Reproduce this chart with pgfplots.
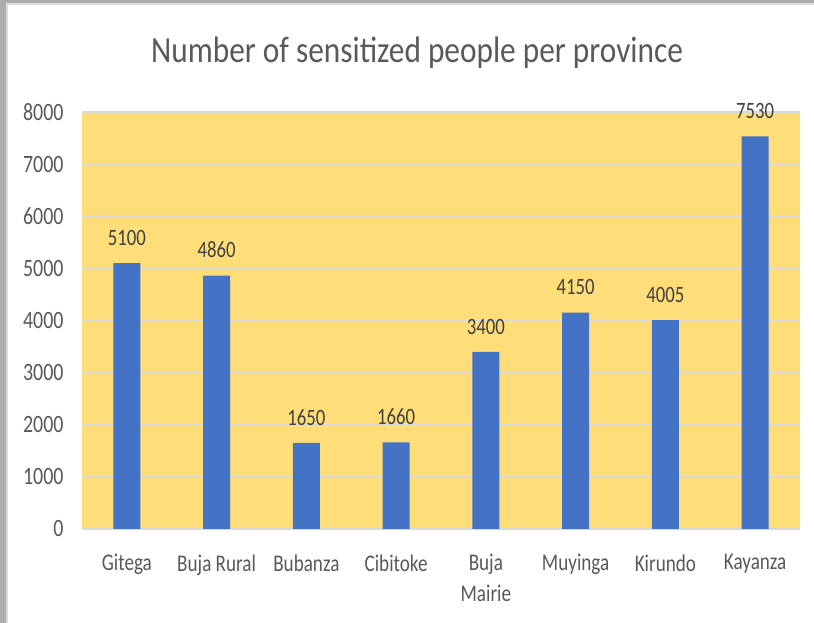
\documentclass[border=0pt]{standalone}
\usepackage{pgfplots}
\pgfplotsset{compat=1.18}
\usepackage{fontspec}
\setmainfont{Carlito}[FakeStretch=0.8]
\newfontfamily\titlefont{Carlito}[FakeStretch=0.85]
\definecolor{barblue}{HTML}{4472C4}
\definecolor{plotbg}{HTML}{FFDE7A}
\definecolor{gridc}{HTML}{D9D9D9}
\definecolor{txt}{HTML}{595959}
\definecolor{lbl}{HTML}{404040}
\definecolor{frameA}{HTML}{ADADAD}
\definecolor{frameB}{HTML}{DCDCDC}
\begin{document}
\begin{tikzpicture}[x=1bp,y=1bp]
\useasboundingbox (0,0) rectangle (814,623);
\fill[white] (0,0) rectangle (814,623);
\fill[frameA] (0,0) rectangle (6,623);
\fill[frameA] (0,620) rectangle (814,623);
\fill[frameB] (6,0) rectangle (8,620);
\fill[frameB] (6,618) rectangle (814,620);
\node[text=txt,font=\titlefont\fontsize{37}{40}\selectfont] at (417,570) {Number of sensitized people per province};
\begin{axis}[
  at={(82bp,94bp)}, anchor=south west,
  scale only axis, width=718bp, height=417bp,
  xmin=-0.5, xmax=7.5, ymin=0, ymax=8000,
  ytick={0,1000,...,8000},
  xtick={0,...,7},
  xticklabels={Gitega,Buja Rural,Bubanza,Cibitoke,Buja\\Mairie,Muyinga,Kirundo,Kayanza},
  xticklabel style={align=center,text=txt,font=\fontsize{24}{31}\selectfont,yshift=-22bp},
  yticklabel style={text=txt,font=\fontsize{25}{27}\selectfont,xshift=-15bp},
  /pgf/number format/assume math mode=true,
  /pgf/number format/1000 sep={},
  ymajorgrids, major grid style={gridc,line width=1.5bp},
  axis background/.style={fill=plotbg},
  axis line style={draw=none},
  axis x line*=bottom, axis y line*=left,
  x axis line style={draw=gridc,line width=1.5bp},
  major tick length=0pt,
  clip=false,
  nodes near coords,
  every node near coord/.append style={text=lbl,font=\fontsize{23.5}{26}\selectfont,yshift=14bp},
  point meta=explicit,
]
\addplot[ybar, bar width=27bp, fill=barblue, draw=none] coordinates {
 (0,5100) [5100] (1,4860) [4860] (2,1650) [1650] (3,1660) [1660]
 (4,3400) [3400] (5,4150) [4150] (6,4005) [4005] (7,7530) [7530]};
\end{axis}
\end{tikzpicture}
\end{document}
